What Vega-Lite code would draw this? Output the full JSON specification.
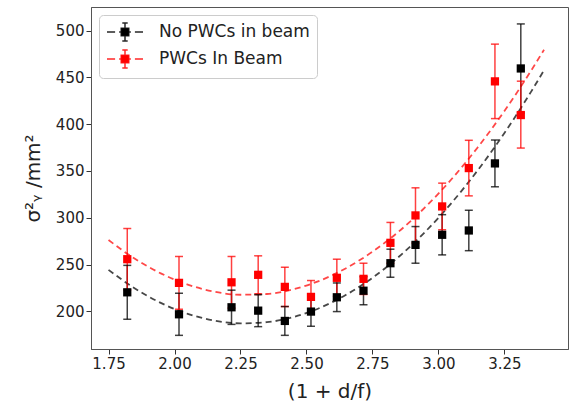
{
  "$schema": "https://vega.github.io/schema/vega-lite/v6.json",
  "autosize": "none",
  "width": 477,
  "height": 342,
  "padding": {"left": 91, "top": 7, "right": 1, "bottom": 65},
  "background": "white",
  "config": {
    "font": "DejaVu Sans",
    "view": {"stroke": "#555", "strokeWidth": 1},
    "axis": {
      "grid": false,
      "domainColor": "#555",
      "tickColor": "#333",
      "tickSize": 5,
      "labelFontSize": 15,
      "labelColor": "#222",
      "labelFont": "DejaVu Sans",
      "titleFont": "DejaVu Sans",
      "titleFontWeight": "normal",
      "titleColor": "#222",
      "titleFontSize": 20
    },
    "legend": {
      "orient": "top-left",
      "offset": 8,
      "fillColor": "white",
      "strokeColor": "#ccc",
      "cornerRadius": 4,
      "padding": 7,
      "labelFontSize": 17,
      "labelFont": "DejaVu Sans",
      "labelColor": "#222",
      "symbolOffset": 9,
      "labelOffset": 24,
      "rowPadding": 3,
      "symbolSize": 324,
      "symbolStrokeWidth": 1.5,
      "symbolType": "M-2,0H-1.1M-0.65,0H0.65M1.1,0H2M-0.42,-0.42H0.42V0.42H-0.42ZM0,-1V1M-0.3,-1H0.3M-0.3,1H0.3"
    }
  },
  "datasets": {
    "pts": [
      {"series": "No PWCs in beam", "x": 1.821, "y": 220.3, "lo": 191.5, "hi": 249.1},
      {"series": "No PWCs in beam", "x": 2.017, "y": 196.8, "lo": 174.3, "hi": 219.3},
      {"series": "No PWCs in beam", "x": 2.216, "y": 204.3, "lo": 186.0, "hi": 222.6},
      {"series": "No PWCs in beam", "x": 2.317, "y": 200.7, "lo": 183.6, "hi": 217.8},
      {"series": "No PWCs in beam", "x": 2.418, "y": 189.7, "lo": 174.3, "hi": 205.1},
      {"series": "No PWCs in beam", "x": 2.517, "y": 199.7, "lo": 184.0, "hi": 215.4},
      {"series": "No PWCs in beam", "x": 2.615, "y": 215.0, "lo": 199.7, "hi": 230.3},
      {"series": "No PWCs in beam", "x": 2.716, "y": 222.0, "lo": 207.0, "hi": 237.0},
      {"series": "No PWCs in beam", "x": 2.818, "y": 251.4, "lo": 236.4, "hi": 266.4},
      {"series": "No PWCs in beam", "x": 2.913, "y": 271.0, "lo": 251.4, "hi": 290.6},
      {"series": "No PWCs in beam", "x": 3.014, "y": 281.8, "lo": 260.3, "hi": 303.3},
      {"series": "No PWCs in beam", "x": 3.115, "y": 286.4, "lo": 264.8, "hi": 308.0},
      {"series": "No PWCs in beam", "x": 3.214, "y": 358.1, "lo": 333.1, "hi": 383.1},
      {"series": "No PWCs in beam", "x": 3.312, "y": 459.6, "lo": 412.0, "hi": 507.2},
      {"series": "PWCs In Beam", "x": 1.821, "y": 255.7, "lo": 222.9, "hi": 288.5},
      {"series": "PWCs In Beam", "x": 2.017, "y": 230.4, "lo": 202.2, "hi": 258.6},
      {"series": "PWCs In Beam", "x": 2.216, "y": 231.0, "lo": 203.4, "hi": 258.6},
      {"series": "PWCs In Beam", "x": 2.317, "y": 239.0, "lo": 218.7, "hi": 259.3},
      {"series": "PWCs In Beam", "x": 2.418, "y": 226.1, "lo": 205.1, "hi": 247.1},
      {"series": "PWCs In Beam", "x": 2.517, "y": 215.4, "lo": 197.9, "hi": 232.9},
      {"series": "PWCs In Beam", "x": 2.615, "y": 235.8, "lo": 215.9, "hi": 255.7},
      {"series": "PWCs In Beam", "x": 2.716, "y": 234.7, "lo": 218.0, "hi": 251.4},
      {"series": "PWCs In Beam", "x": 2.818, "y": 273.2, "lo": 251.4, "hi": 295.0},
      {"series": "PWCs In Beam", "x": 2.913, "y": 302.5, "lo": 273.0, "hi": 332.0},
      {"series": "PWCs In Beam", "x": 3.014, "y": 312.1, "lo": 287.2, "hi": 337.0},
      {"series": "PWCs In Beam", "x": 3.115, "y": 353.1, "lo": 323.4, "hi": 382.8},
      {"series": "PWCs In Beam", "x": 3.214, "y": 445.8, "lo": 406.0, "hi": 485.6},
      {"series": "PWCs In Beam", "x": 3.312, "y": 409.8, "lo": 374.5, "hi": 446.0}
    ],
    "curves": [
      {"series": "No PWCs in beam", "x": 1.75, "y": 244.3},
      {"series": "No PWCs in beam", "x": 1.85, "y": 224.4},
      {"series": "No PWCs in beam", "x": 1.95, "y": 208.7},
      {"series": "No PWCs in beam", "x": 2.05, "y": 197.3},
      {"series": "No PWCs in beam", "x": 2.15, "y": 190.1},
      {"series": "No PWCs in beam", "x": 2.25, "y": 187.1},
      {"series": "No PWCs in beam", "x": 2.35, "y": 188.4},
      {"series": "No PWCs in beam", "x": 2.45, "y": 193.9},
      {"series": "No PWCs in beam", "x": 2.55, "y": 203.6},
      {"series": "No PWCs in beam", "x": 2.65, "y": 217.6},
      {"series": "No PWCs in beam", "x": 2.75, "y": 235.8},
      {"series": "No PWCs in beam", "x": 2.85, "y": 258.3},
      {"series": "No PWCs in beam", "x": 2.95, "y": 285.0},
      {"series": "No PWCs in beam", "x": 3.05, "y": 316.0},
      {"series": "No PWCs in beam", "x": 3.15, "y": 351.2},
      {"series": "No PWCs in beam", "x": 3.25, "y": 390.6},
      {"series": "No PWCs in beam", "x": 3.35, "y": 434.3},
      {"series": "No PWCs in beam", "x": 3.40, "y": 457.7},
      {"series": "PWCs In Beam", "x": 1.75, "y": 276.2},
      {"series": "PWCs In Beam", "x": 1.85, "y": 256.1},
      {"series": "PWCs In Beam", "x": 1.95, "y": 240.3},
      {"series": "PWCs In Beam", "x": 2.05, "y": 228.6},
      {"series": "PWCs In Beam", "x": 2.15, "y": 221.0},
      {"series": "PWCs In Beam", "x": 2.25, "y": 217.7},
      {"series": "PWCs In Beam", "x": 2.35, "y": 218.5},
      {"series": "PWCs In Beam", "x": 2.45, "y": 223.5},
      {"series": "PWCs In Beam", "x": 2.55, "y": 232.7},
      {"series": "PWCs In Beam", "x": 2.65, "y": 246.1},
      {"series": "PWCs In Beam", "x": 2.75, "y": 263.7},
      {"series": "PWCs In Beam", "x": 2.85, "y": 285.4},
      {"series": "PWCs In Beam", "x": 2.95, "y": 311.3},
      {"series": "PWCs In Beam", "x": 3.05, "y": 341.4},
      {"series": "PWCs In Beam", "x": 3.15, "y": 375.7},
      {"series": "PWCs In Beam", "x": 3.25, "y": 414.2},
      {"series": "PWCs In Beam", "x": 3.35, "y": 456.8},
      {"series": "PWCs In Beam", "x": 3.40, "y": 479.7}
    ]
  },
  "encoding": {
    "x": {
      "field": "x", "type": "quantitative",
      "scale": {"domain": [1.6836, 3.4908], "nice": false, "zero": false},
      "axis": {"values": [1.75, 2.0, 2.25, 2.5, 2.75, 3.0, 3.25], "format": ".2f", "title": "(1 + d/f)", "titlePadding": 10}
    },
    "y": {
      "field": "y", "type": "quantitative",
      "scale": {"domain": [159.7, 525.3], "nice": false, "zero": false},
      "axis": {"values": [200, 250, 300, 350, 400, 450, 500], "title": "σ²ᵧ /mm²", "titlePadding": 12}
    },
    "color": {
      "field": "series", "type": "nominal",
      "scale": {"domain": ["No PWCs in beam", "PWCs In Beam"], "range": ["#000000", "#ff0000"]},
      "legend": {
        "title": null,
        "encode": {"symbols": {"update": {
          "stroke": {"scale": "color", "field": "value"},
          "strokeWidth": {"value": 1.5},
          "fill": {"scale": "color", "field": "value"},
          "opacity": {"value": 1},
          "fillOpacity": {"value": 1},
          "strokeOpacity": {"value": 0.85}
        }}}
      }
    }
  },
  "layer": [
    {
      "data": {"name": "curves"},
      "mark": {"type": "line", "strokeDash": [6, 4], "strokeWidth": 1.8, "strokeOpacity": 0.72, "interpolate": "monotone"},
      "encoding": {"detail": {"field": "series"}}
    },
    {
      "data": {"name": "pts"},
      "mark": {"type": "rule", "strokeWidth": 1.5, "strokeOpacity": 0.75},
      "encoding": {"y": {"field": "lo", "type": "quantitative"}, "y2": {"field": "hi"}}
    },
    {
      "data": {"name": "pts"},
      "mark": {"type": "tick", "orient": "horizontal", "size": 8, "thickness": 1.5, "fillOpacity": 0.75},
      "encoding": {"y": {"field": "lo", "type": "quantitative"}}
    },
    {
      "data": {"name": "pts"},
      "mark": {"type": "tick", "orient": "horizontal", "size": 8, "thickness": 1.5, "fillOpacity": 0.75},
      "encoding": {"y": {"field": "hi", "type": "quantitative"}}
    },
    {
      "data": {"name": "pts"},
      "mark": {"type": "point", "shape": "square", "filled": true, "size": 68, "opacity": 1}
    }
  ]
}
